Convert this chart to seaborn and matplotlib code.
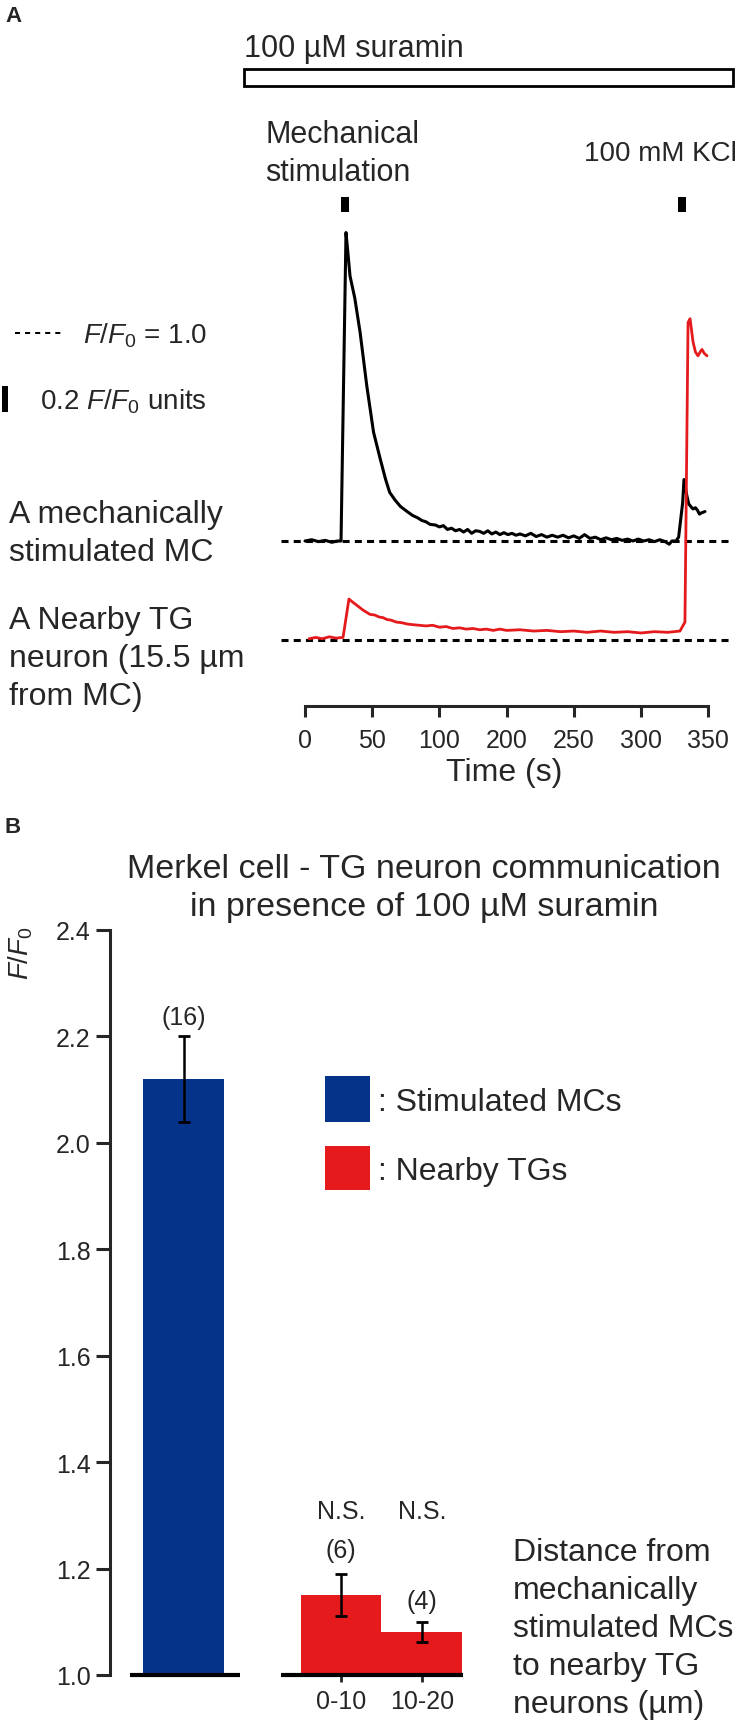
import numpy as np
import pandas as pd
import matplotlib
matplotlib.use("Agg")
import matplotlib.pyplot as plt
from matplotlib.patches import Rectangle
import seaborn as sns

# ---------------- data ----------------
# Panel A: single traces (time in axis units, F/F0)
BLACK_T = [0, 5, 10, 15, 20, 24, 26.8, 30.5, 31.5, 33.5, 37, 41, 46, 51, 56, 60, 63, 67,
           71, 76, 80, 84, 87, 90, 93, 97, 100, 103, 106, 109, 112, 115, 118, 121, 124,
           127, 130, 133, 136, 139, 142, 145, 148, 151, 154, 157, 160, 164, 168, 172, 176,
           180, 184, 188, 192, 196, 200, 204, 208, 212, 216, 220, 224, 228, 232, 236, 240,
           244, 248, 252, 256, 260, 264, 268, 271, 273, 276, 278, 281, 282, 284, 285.5,
           287, 288.7, 290.5, 292, 293.5, 295, 297.6]
BLACK_F = [1.00, 1.01, 0.995, 1.005, 0.99, 1.00, 1.00, 3.41, 3.30, 3.07, 2.90, 2.63, 2.21,
           1.85, 1.64, 1.48, 1.38, 1.32, 1.27, 1.23, 1.20, 1.18, 1.16, 1.15, 1.13, 1.125,
           1.11, 1.12, 1.09, 1.10, 1.08, 1.09, 1.07, 1.09, 1.06, 1.08, 1.075, 1.06, 1.08,
           1.055, 1.07, 1.05, 1.065, 1.05, 1.06, 1.045, 1.055, 1.04, 1.06, 1.035, 1.05,
           1.03, 1.045, 1.03, 1.045, 1.025, 1.04, 1.02, 1.05, 1.02, 1.03, 1.01, 1.025,
           1.01, 1.02, 1.005, 1.015, 1.00, 1.015, 1.00, 1.01, 0.995, 1.01, 0.995, 0.975,
           1.00, 1.00, 1.03, 1.30, 1.48, 1.36, 1.29, 1.27, 1.25, 1.26, 1.24, 1.21, 1.22,
           1.23]
RED_T = [3, 8, 13, 18, 23, 28.3, 32.7, 35, 38.7, 43, 48.4, 52, 55, 58, 61, 64, 68, 72, 76,
         80, 85, 90, 95, 100, 105, 110, 115, 120, 125, 130, 135, 140, 145, 150, 160, 170,
         180, 190, 200, 210, 220, 230, 240, 250, 260, 270, 279, 282.7, 285, 286.5, 288.7,
         290.5, 292.4, 294, 295.4, 297, 299.1]
RED_F = [1.01, 1.02, 1.01, 1.025, 1.015, 1.02, 1.32, 1.30, 1.27, 1.235, 1.20, 1.195, 1.18,
         1.175, 1.16, 1.155, 1.14, 1.135, 1.125, 1.12, 1.115, 1.11, 1.115, 1.10, 1.105,
         1.09, 1.095, 1.085, 1.09, 1.08, 1.085, 1.075, 1.085, 1.075, 1.08, 1.07, 1.075,
         1.065, 1.07, 1.06, 1.07, 1.06, 1.065, 1.055, 1.065, 1.06, 1.07, 1.14, 3.48, 3.51,
         3.33, 3.25, 3.22, 3.25, 3.27, 3.24, 3.22]
STIM_TIMES = [29.8, 280.5]
TIME_TICKS = [0, 50, 100, 150, 200, 250, 300]
TIME_TICK_LABELS = ["0", "50", "100", "200", "250", "300", "350"]

# Panel B: bar chart
BAR_GROUPS = ["Stimulated MCs", "Nearby TGs", "Nearby TGs"]
BAR_CATS = ["", "0-10", "10-20"]
BAR_MEANS = [2.12, 1.15, 1.081]
BAR_ERRS = [0.08, 0.04, 0.019]
BAR_N = ["(16)", "(6)", "(4)"]
BAR_SIG = ["", "N.S.", "N.S."]
Y_TICKS = [1.0, 1.2, 1.4, 1.6, 1.8, 2.0, 2.2, 2.4]

BLUE = "#06338A"
RED = "#E41A1C"
PALETTE = {"Stimulated MCs": BLUE, "Nearby TGs": RED}

# ---------------- style ----------------
sns.set_style("white")
plt.rcParams["font.family"] = ["Liberation Sans", "DejaVu Sans"]
plt.rcParams["mathtext.fontset"] = "custom"
plt.rcParams["mathtext.rm"] = "Liberation Sans"
plt.rcParams["mathtext.it"] = "Liberation Sans:italic"
plt.rcParams["axes.linewidth"] = 2.2

W, H = 739, 1724
fig = plt.figure(figsize=(W / 100, H / 100), dpi=100)
PT = 100 / 72.0  # px per point
FF0 = r"$F/F_{\mathit{0}}$"


def txt(x, yc, s, size, ha="left", **kw):
    """place text with its cap-height centre at pixel (x, yc)"""
    base = yc + 0.716 * size * PT / 2
    return fig.text(x / W, 1 - base / H, s, fontsize=size, ha=ha, va="baseline", **kw)


# ---------------- Panel A ----------------
X0, XPX = 305, 1.344  # px of t=0, px per time unit
Y0, YPX = 542, 128.0  # px of F/F0=1 (black trace), px per F/F0 unit


def t_of(px):
    return (px - X0) / XPX


def f_of(py):
    return 1 + (Y0 - py) / YPX


RED_OFFSET = f_of(641) - 1.0

ax_a = fig.add_axes([240 / W, 1 - 707 / H, (739 - 240) / W, (707 - 60) / H])
ax_a.set_xlim(t_of(240), t_of(739))
ax_a.set_ylim(f_of(707), f_of(60))

dash = (0, (2.3, 1.7))
ax_a.hlines([1.0, 1.0 + RED_OFFSET], t_of(281), t_of(733), colors="black",
            linewidth=2.2, linestyles=[dash, dash], zorder=1)

df_black = pd.DataFrame({"t": BLACK_T, "f": BLACK_F})
df_red = pd.DataFrame({"t": RED_T, "f": np.array(RED_F) + RED_OFFSET})
sns.lineplot(data=df_black, x="t", y="f", color="black", linewidth=2.2,
             estimator=None, sort=False, ax=ax_a, zorder=3)
sns.lineplot(data=df_red, x="t", y="f", color=RED, linewidth=2.0,
             estimator=None, sort=False, ax=ax_a, zorder=4)

# suramin application bar
ax_a.add_patch(Rectangle((t_of(244), f_of(87)), t_of(733) - t_of(244), f_of(70) - f_of(87),
                         fill=False, edgecolor="black", linewidth=2.0, clip_on=False))
# stimulus marks
for st in STIM_TIMES:
    ax_a.add_patch(Rectangle((st - 3, f_of(213)), 6, f_of(198) - f_of(213),
                             facecolor="black", edgecolor="none", clip_on=False))
# scale bar 0.2 F/F0
ax_a.add_patch(Rectangle((t_of(2), f_of(400) - 0.1), t_of(8) - t_of(2), 0.2,
                         facecolor="black", edgecolor="none", clip_on=False))
# dotted legend line
ax_a.plot([t_of(15), t_of(63)], [f_of(334)] * 2, color="black", linewidth=1.45,
          linestyle=(0, (2.5, 2.5)), clip_on=False)

for sp in ["left", "top", "right"]:
    ax_a.spines[sp].set_visible(False)
ax_a.spines["bottom"].set_bounds(0, 300)
ax_a.spines["bottom"].set_linewidth(2.2)
ax_a.set_xticks(TIME_TICKS)
ax_a.set_xticklabels(TIME_TICK_LABELS, fontsize=18)
ax_a.set_yticks([])
ax_a.tick_params(axis="x", direction="out", length=8, width=2.2, pad=8, bottom=True)
ax_a.set_xlabel("")
ax_a.set_ylabel("")
txt(504, 770, "Time (s)", 23, ha="center")

txt(5, 14, "A", 16, weight="bold")
txt(244, 46, "100 µM suramin", 22)
txt(265, 132, "Mechanical", 22)
txt(265, 170, "stimulation", 22)
txt(584, 151, "100 mM KCl", 20)
txt(83, 334, FF0 + " = 1.0", 20)
txt(40, 400, "0.2 " + FF0 + " units", 20)
for i, line in enumerate(["A mechanically", "stimulated MC"]):
    txt(9, 512 + 38 * i, line, 23)
for i, line in enumerate(["A Nearby TG", "neuron (15.5 µm", "from MC)"]):
    txt(9, 618 + 38 * i, line, 23)

# ---------------- Panel B ----------------
BX0, BXU = 184, 81.0  # px of blue bar centre, px per bar unit
BAR_POS = [0.0, (341 - BX0) / BXU, (341 - BX0) / BXU + 1.0]

ax_b = fig.add_axes([110 / W, 1 - 1676 / H, (739 - 110) / W, (1676 - 931) / H])
df_b = pd.DataFrame({"pos": BAR_POS, "mean": BAR_MEANS, "group": BAR_GROUPS})
sns.barplot(data=df_b, x="pos", y="mean", hue="group", palette=PALETTE,
            native_scale=True, dodge=False, width=1.0, errorbar=None,
            saturation=1, linewidth=0, legend=False, ax=ax_b)
ax_b.errorbar(BAR_POS, BAR_MEANS, yerr=BAR_ERRS, fmt="none", ecolor="black",
              elinewidth=1.8, capsize=4.3, capthick=2.0, zorder=5)
ax_b.set_xlim((110 - BX0) / BXU, (739 - BX0) / BXU)
ax_b.set_ylim(1.0, 2.4)

for sp in ["top", "right", "bottom"]:
    ax_b.spines[sp].set_visible(False)
ax_b.spines["left"].set_bounds(1.0, 2.4)
ax_b.spines["left"].set_linewidth(2.2)
ax_b.set_yticks(Y_TICKS)
ax_b.set_yticklabels([f"{v:.1f}" for v in Y_TICKS], fontsize=18)
ax_b.tick_params(axis="y", direction="out", length=10, width=2.2, pad=4, left=True)
ax_b.set_xticks(BAR_POS[1:])
ax_b.set_xticklabels(BAR_CATS[1:], fontsize=18)
ax_b.tick_params(axis="x", direction="out", length=5, width=2.0, pad=5, bottom=True)
ax_b.set_xlabel("")
ax_b.set_ylabel("")

# baselines under bars
ax_b.hlines([1.0, 1.0], [(130 - BX0) / BXU, (281 - BX0) / BXU],
            [(240 - BX0) / BXU, (463 - BX0) / BXU], colors="black",
            linewidth=3.0, clip_on=False, zorder=6)

# n labels and significance
n_offsets = [14, 17, 15]
for p, m, e, n, off in zip(BAR_POS, BAR_MEANS, BAR_ERRS, BAR_N, n_offsets):
    ax_b.annotate(n, (p, m + e), xytext=(0, off), textcoords="offset points",
                  ha="center", va="center", fontsize=18)
for p, s in zip(BAR_POS, BAR_SIG):
    if s:
        ax_b.text(p, 1.0 + (1676 - 1512) / 532.0, s, ha="center", va="center", fontsize=18)

txt(5, 825, "B", 16, weight="bold")
txt(424, 866, "Merkel cell - TG neuron communication", 24.5, ha="center")
txt(424, 904, "in presence of 100 µM suramin", 24.5, ha="center")
fig.text(21 / W, 1 - 953 / H, FF0, fontsize=20, rotation=90, ha="center", va="center")

# legend
for (y0, y1), grp in zip([(1077, 1123), (1147, 1191)], ["Stimulated MCs", "Nearby TGs"]):
    fig.add_artist(Rectangle((325 / W, 1 - y1 / H), 45 / W, (y1 - y0) / H,
                             transform=fig.transFigure, facecolor=PALETTE[grp],
                             edgecolor="none"))
    txt(378, (y0 + y1) / 2, ": " + grp, 23)

for i, line in enumerate(["Distance from", "mechanically", "stimulated MCs",
                          "to nearby TG", "neurons (µm)"]):
    txt(513, 1550 + 38 * i, line, 23)

fig.savefig("out.png", dpi=100, facecolor="white")
